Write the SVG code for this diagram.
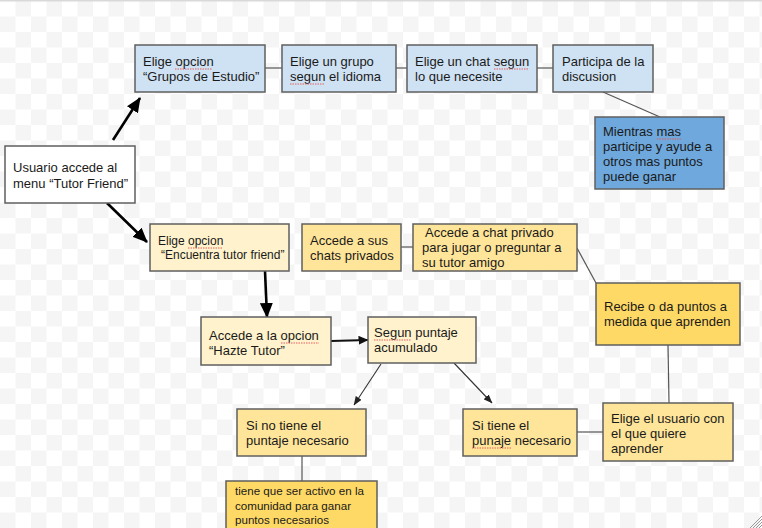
<svg xmlns="http://www.w3.org/2000/svg" width="762" height="528" viewBox="0 0 762 528">
<defs>
<pattern id="chk" x="0" y="1" width="31" height="31" patternUnits="userSpaceOnUse">
<rect width="31" height="31" fill="#ffffff"/>
<rect x="15.5" y="0" width="15.5" height="15.5" fill="#f5f5f5"/>
<rect x="0" y="15.5" width="15.5" height="15.5" fill="#f5f5f5"/>
</pattern>
<marker id="ahBig" markerUnits="userSpaceOnUse" markerWidth="15" markerHeight="13" refX="14" refY="6.5" orient="auto">
<path d="M0,0 L15,6.5 L0,13 Z" fill="#000"/>
</marker>
<marker id="ahMid" markerUnits="userSpaceOnUse" markerWidth="10" markerHeight="9" refX="9.5" refY="4.5" orient="auto">
<path d="M0,0 L10,4.5 L0,9 Z" fill="#111"/>
</marker>
<marker id="ahSmall" markerUnits="userSpaceOnUse" markerWidth="9" markerHeight="7" refX="8.5" refY="3.5" orient="auto">
<path d="M0,0 L9,3.5 L0,7 Z" fill="#222"/>
</marker>
</defs>
<style>
.box{stroke:#5f5f5f;stroke-width:1.5}
.white{fill:#ffffff}
.blue{fill:#cfe2f3}
.dblue{fill:#6fa8dc}
.lyel{fill:#fff2cc}
.yel{fill:#ffe599}
.dyel{fill:#ffd966}
text{font-family:"Liberation Sans",Arial,sans-serif;font-size:13px;fill:#1a1a1a}
.t12{font-size:12px}
.t11{font-size:11.6px}
.thick{stroke:#000;stroke-width:2.6;fill:none}
.mid{stroke:#111;stroke-width:2;fill:none}
.thin{stroke:#333;stroke-width:1.1;fill:none}
.ln{stroke:#555;stroke-width:1.2;fill:none}
.sq{stroke:#e06060;stroke-width:1;stroke-dasharray:1.5 1;fill:none}
</style>
<rect width="762" height="528" fill="url(#chk)"/>
<rect x="0" y="0" width="762" height="1.5" fill="#d9d9d9"/>

<g id="connectors">
<line class="thick" x1="113" y1="140" x2="140" y2="98" marker-end="url(#ahBig)"/>
<line class="thick" x1="107" y1="203" x2="147" y2="242" marker-end="url(#ahBig)"/>
<line class="thick" x1="265" y1="271" x2="267" y2="317" marker-end="url(#ahBig)"/>
<line class="mid" x1="331" y1="341" x2="368" y2="340" marker-end="url(#ahMid)"/>
<line class="thin" x1="381" y1="364" x2="354" y2="405" marker-end="url(#ahSmall)"/>
<line class="thin" x1="454" y1="363" x2="492" y2="403" marker-end="url(#ahSmall)"/>
<line class="ln" x1="265" y1="68" x2="282" y2="68"/>
<line class="ln" x1="396" y1="68" x2="407" y2="68"/>
<line class="ln" x1="537" y1="68" x2="553" y2="68"/>
<line class="ln" x1="603" y1="92" x2="660" y2="117"/>
<line class="ln" x1="401" y1="247" x2="413" y2="247"/>
<line class="ln" x1="577" y1="248" x2="596" y2="283"/>
<line class="ln" x1="668" y1="345" x2="669" y2="403"/>
<line class="ln" x1="577" y1="432" x2="603" y2="432"/>
<line class="ln" x1="302" y1="456" x2="302" y2="481"/>
</g>

<g id="n-usuario">
<rect class="box white" x="5" y="146" width="130" height="57"/>
<text x="13" y="172">Usuario accede al</text>
<text x="13" y="188">menu “Tutor Friend”</text>
</g>

<g id="n-grupos">
<rect class="box blue" x="135" y="45" width="130" height="47"/>
<text x="143" y="66">Elige opcion</text>
<text x="143" y="81">“Grupos de Estudio”</text>
<line class="sq" x1="175" y1="69" x2="212" y2="69"/>
</g>

<g id="n-grupo-idioma">
<rect class="box blue" x="282" y="45" width="114" height="47"/>
<text x="290" y="66">Elige un grupo</text>
<text x="290" y="81">segun el idioma</text>
<line class="sq" x1="290" y1="84" x2="325" y2="84"/>
</g>

<g id="n-chat">
<rect class="box blue" x="407" y="45" width="130" height="47"/>
<text x="415" y="66">Elige un chat segun</text>
<text x="415" y="81">lo que necesite</text>
<line class="sq" x1="494" y1="69" x2="529" y2="69"/>
</g>

<g id="n-participa">
<rect class="box blue" x="553" y="45" width="100" height="47"/>
<text x="562" y="66">Participa de la</text>
<text x="562" y="81">discusion</text>
</g>

<g id="n-mientras">
<rect class="box dblue" x="595" y="117" width="129" height="72"/>
<text x="603" y="136">Mientras mas</text>
<text x="603" y="151">participe y ayude a</text>
<text x="603" y="166">otros mas puntos</text>
<text x="603" y="181">puede ganar</text>
<line class="sq" x1="657" y1="139" x2="681" y2="139"/>
</g>

<g id="n-encuentra">
<rect class="box lyel" x="150" y="224" width="139" height="47"/>
<text class="t12" x="158" y="245">Elige opcion</text>
<text class="t12" x="161" y="259">“Encuentra tutor friend”</text>
<line class="sq" x1="188" y1="248" x2="223" y2="248"/>
</g>

<g id="n-chats-privados">
<rect class="box yel" x="302" y="224" width="99" height="47"/>
<text x="310" y="245">Accede a sus</text>
<text x="310" y="260">chats privados</text>
</g>

<g id="n-chat-privado">
<rect class="box yel" x="413" y="224" width="164" height="47"/>
<text x="425" y="237">Accede a chat privado</text>
<text x="422" y="252">para jugar o preguntar a</text>
<text x="422" y="267">su tutor amigo</text>
</g>

<g id="n-recibe">
<rect class="box dyel" x="596" y="283" width="144" height="62"/>
<text x="604" y="311">Recibe o da puntos a</text>
<text x="604" y="326">medida que aprenden</text>
</g>

<g id="n-hazte">
<rect class="box lyel" x="201" y="317" width="130" height="48"/>
<text x="209" y="340">Accede a la opcion</text>
<text x="209" y="355">“Hazte Tutor”</text>
<line class="sq" x1="281" y1="343" x2="319" y2="343"/>
</g>

<g id="n-segun">
<rect class="box lyel" x="368" y="317" width="108" height="46"/>
<text x="374" y="337">Segun puntaje</text>
<text x="374" y="352">acumulado</text>
<line class="sq" x1="374" y1="340" x2="411" y2="340"/>
</g>

<g id="n-si-no">
<rect class="box yel" x="237" y="409" width="129" height="47"/>
<text x="246" y="430">Si no tiene el</text>
<text x="246" y="445">puntaje necesario</text>
</g>

<g id="n-si-tiene">
<rect class="box yel" x="463" y="409" width="114" height="47"/>
<text x="472" y="430">Si tiene el</text>
<text x="472" y="445">punaje necesario</text>
<line class="sq" x1="472" y1="448" x2="511" y2="448"/>
</g>

<g id="n-elige-usuario">
<rect class="box yel" x="603" y="403" width="130" height="58"/>
<text x="611" y="423">Elige el usuario con</text>
<text x="611" y="438">el que quiere</text>
<text x="611" y="453">aprender</text>
</g>

<g id="n-activo">
<rect class="box dyel" x="226" y="481" width="151" height="60"/>
<text class="t11" x="235" y="495">tiene que ser activo en la</text>
<text class="t11" x="235" y="510">comunidad para ganar</text>
<text class="t11" x="235" y="524">puntos necesarios</text>
</g>

<g stroke="#999" stroke-width="1">
<line x1="750" y1="528" x2="762" y2="516"/>
<line x1="753" y1="528" x2="762" y2="519"/>
<line x1="756" y1="528" x2="762" y2="522"/>
<line x1="759" y1="528" x2="762" y2="525"/>
</g>
</svg>
